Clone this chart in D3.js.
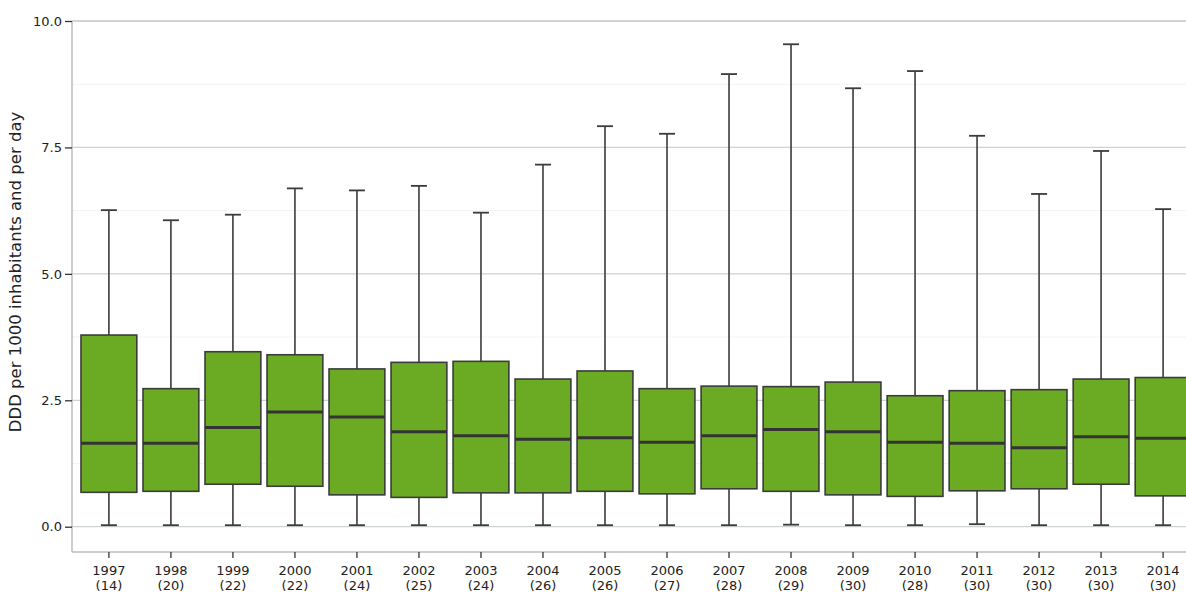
<!DOCTYPE html>
<html>
<head>
<meta charset="utf-8">
<script src="https://cdn.jsdelivr.net/npm/d3@7"></script>
<style>
  body { margin: 0; background: #fff; }
  .chart text { font-family: "DejaVu Sans", Verdana, sans-serif; fill: #222; }
</style>
</head>
<body>
<div class="chart"></div>
<script>
const years = ["1997", "1998", "1999", "2000", "2001", "2002", "2003", "2004", "2005",
  "2006", "2007", "2008", "2009", "2010", "2011", "2012", "2013", "2014"];
const counts = [14, 20, 22, 22, 24, 25, 24, 26, 26, 27, 28, 29, 30, 28, 30, 30, 30, 30];
const whiskerHigh = [6.26, 6.06, 6.17, 6.69, 6.65, 6.74, 6.21, 7.16, 7.92, 7.77, 8.95, 9.54, 8.67, 9.01, 7.73, 6.58, 7.43, 6.28];
const q3 = [3.79, 2.73, 3.46, 3.40, 3.12, 3.25, 3.27, 2.92, 3.08, 2.73, 2.78, 2.77, 2.86, 2.59, 2.69, 2.71, 2.92, 2.95];
const median = [1.65, 1.65, 1.96, 2.27, 2.17, 1.88, 1.80, 1.73, 1.76, 1.67, 1.80, 1.92, 1.88, 1.67, 1.65, 1.56, 1.78, 1.75];
const q1 = [0.68, 0.70, 0.84, 0.80, 0.63, 0.58, 0.67, 0.67, 0.70, 0.65, 0.75, 0.70, 0.63, 0.60, 0.71, 0.75, 0.84, 0.61];
const whiskerLow = [0.03, 0.03, 0.03, 0.03, 0.03, 0.03, 0.03, 0.03, 0.03, 0.03, 0.03, 0.04, 0.03, 0.03, 0.05, 0.03, 0.03, 0.03];
const yTicks = [0, 2.5, 5, 7.5, 10];
const yMinor = [1.25, 3.75, 6.25, 8.75];

const data = years.map((y, i) => ({
  year: y, n: counts[i], hi: whiskerHigh[i], q3: q3[i], med: median[i], q1: q1[i], lo: whiskerLow[i]
}));

const width = 1186, height = 592;
const margin = { top: 21, left: 72, bottom: 40 };
const plotBottom = height - margin.bottom;

const svg = d3.select(".chart").append("svg")
  .attr("width", width).attr("height", height);

const x = d3.scaleBand().domain(years)
  .range([margin.left, 1200])
  .paddingInner(0.1).paddingOuter(0.145);
const y = d3.scaleLinear().domain([-0.5, 10]).range([plotBottom, margin.top]);

// grid
svg.append("g").selectAll("line").data(yMinor).join("line")
  .attr("x1", margin.left).attr("x2", width)
  .attr("y1", d => y(d)).attr("y2", d => y(d))
  .attr("stroke", "#f3f3f3").attr("stroke-width", 1);
svg.append("g").selectAll("line").data(yTicks).join("line")
  .attr("x1", margin.left).attr("x2", width)
  .attr("y1", d => y(d)).attr("y2", d => y(d))
  .attr("stroke", d => d === 10 ? "#a8a8a8" : "#cdd3d0").attr("stroke-width", 1.2);

// y axis
const yAxis = svg.append("g")
  .attr("transform", `translate(${margin.left},0)`)
  .call(d3.axisLeft(y).tickValues(yTicks).tickFormat(d3.format(".1f")).tickSize(7).tickPadding(3));
yAxis.select(".domain").attr("stroke", "#bdbdbd").attr("stroke-width", 1.5)
  .attr("d", `M0,${margin.top}V${plotBottom}`);
yAxis.selectAll(".tick line").attr("stroke", "#333").attr("stroke-width", 1.3);
yAxis.selectAll("text").style("font-size", "13px");

// x axis
const xAxis = svg.append("g")
  .attr("transform", `translate(0,${plotBottom})`)
  .call(d3.axisBottom(x).tickSize(6).tickFormat(""));
xAxis.select(".domain").attr("stroke", "#bdbdbd").attr("stroke-width", 1.5)
  .attr("d", `M${margin.left},0H${width}`);
xAxis.selectAll(".tick line").attr("stroke", "#333").attr("stroke-width", 1.3);
xAxis.selectAll(".tick").append("text")
  .attr("text-anchor", "middle")
  .style("font-size", "13px")
  .each(function (d, i) {
    const t = d3.select(this);
    t.append("tspan").attr("x", 0).attr("y", 23).text(d);
    t.append("tspan").attr("x", 0).attr("y", 38).text(`(${counts[i]})`);
  });

svg.append("text")
  .attr("transform", `translate(21,272) rotate(-90)`)
  .attr("text-anchor", "middle")
  .style("font-size", "16.5px")
  .text("DDD per 1000 inhabitants and per day");

// boxes
const bw = x.bandwidth();
const capW = 16;
const stroke = "#3b3b3b";
const g = svg.append("g").selectAll("g").data(data).join("g")
  .attr("transform", d => `translate(${x(d.year) + bw / 2},0)`);

g.append("line").attr("x1", 0).attr("x2", 0)
  .attr("y1", d => y(d.hi)).attr("y2", d => y(d.q3))
  .attr("stroke", stroke).attr("stroke-width", 1.6);
g.append("line").attr("x1", 0).attr("x2", 0)
  .attr("y1", d => y(d.q1)).attr("y2", d => y(d.lo))
  .attr("stroke", stroke).attr("stroke-width", 1.6);
g.append("line").attr("x1", -capW / 2).attr("x2", capW / 2)
  .attr("y1", d => y(d.hi)).attr("y2", d => y(d.hi))
  .attr("stroke", stroke).attr("stroke-width", 1.8);
g.append("line").attr("x1", -capW / 2).attr("x2", capW / 2)
  .attr("y1", d => y(d.lo)).attr("y2", d => y(d.lo))
  .attr("stroke", stroke).attr("stroke-width", 1.8);

g.append("rect")
  .attr("x", -bw / 2).attr("width", bw)
  .attr("y", d => y(d.q3)).attr("height", d => y(d.q1) - y(d.q3))
  .attr("fill", "#6aab23").attr("stroke", stroke).attr("stroke-width", 1.6);

g.append("line").attr("x1", -bw / 2).attr("x2", bw / 2)
  .attr("y1", d => y(d.med)).attr("y2", d => y(d.med))
  .attr("stroke", "#333").attr("stroke-width", 3);
</script>
</body>
</html>
